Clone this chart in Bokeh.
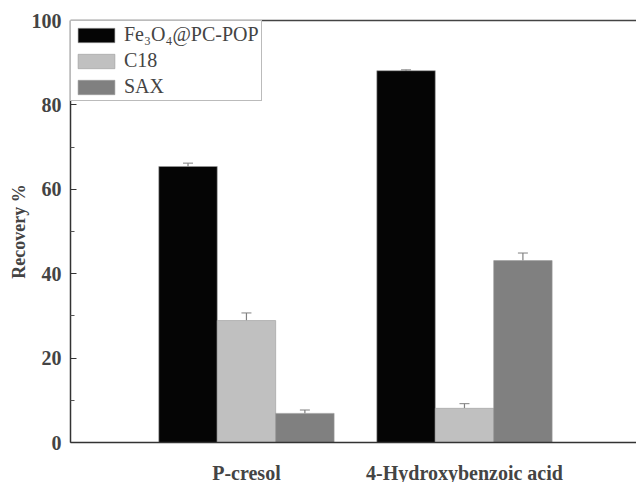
from bokeh.plotting import figure
from bokeh.models import (ColumnDataSource, FixedTicker, Whisker, LinearAxis,
                          Legend, LegendItem, Range1d)
from bokeh.embed import file_html
from bokeh.resources import INLINE

categories = ["P-cresol", "4-Hydroxybenzoic acid"]
series = ["Fe₃O₄@PC-POP", "C18", "SAX"]
fe_vals = [65.4, 88.1]
fe_err = [0.8, 0.2]
c18_vals = [28.9, 8.1]
c18_err = [1.8, 1.1]
sax_vals = [6.9, 43.1]
sax_err = [0.8, 1.8]
colors = ["#050505", "#c0c0c0", "#808080"]
y_ticks = [0, 20, 40, 60, 80, 100]

group_x = [1, 2]
bw = 0.268
offsets = [-bw, 0, bw]

p = figure(frame_width=566, frame_height=422, output_backend="svg",
           toolbar_location=None,
           x_range=Range1d(0.193, 2.789), y_range=Range1d(0, 100),
           min_border_left=70, min_border_right=0, min_border_top=20,
           min_border_bottom=36, y_axis_location=None, x_axis_location=None)
p.grid.visible = False
p.outline_line_color = None
p.background_fill_color = "white"

renderers = []
for vals, errs, off, col in zip([fe_vals, c18_vals, sax_vals],
                                [fe_err, c18_err, sax_err], offsets, colors):
    xs = [g + off for g in group_x]
    src = ColumnDataSource(dict(x=xs, top=vals,
                                upper=[v + e for v, e in zip(vals, errs)]))
    r = p.vbar(x="x", top="top", width=bw, source=src, fill_color=col,
               line_color="#9a9a9a", line_width=0.6)
    renderers.append(r)
    w = Whisker(base="x", lower="top", upper="upper", source=src,
                line_color="#808080", line_width=1.2, lower_head=None)
    w.upper_head.line_color = "#808080"
    w.upper_head.size = 10
    p.add_layout(w)

yax = LinearAxis(ticker=FixedTicker(ticks=y_ticks,
                                    minor_ticks=[10, 30, 50, 70, 90]),
                 axis_label="Recovery %")
yax.major_tick_in = 6
yax.major_tick_out = 0
yax.minor_tick_in = 4
yax.minor_tick_out = 0
yax.axis_line_color = "#333333"
yax.axis_line_width = 1.5
yax.major_tick_line_color = "#333333"
yax.minor_tick_line_color = "#555555"
yax.major_label_text_font = "Liberation Serif"
yax.major_label_text_font_style = "bold"
yax.major_label_text_font_size = "20px"
yax.major_label_standoff = 9
yax.axis_label_text_font = "Liberation Serif"
yax.axis_label_text_font_style = "bold"
yax.axis_label_text_font_size = "18px"
yax.axis_label_standoff = 0
p.add_layout(yax, "left")

xax = LinearAxis(ticker=FixedTicker(ticks=group_x),
                 major_label_overrides={1: categories[0], 2: categories[1]})
xax.major_tick_line_color = None
xax.minor_tick_line_color = None
xax.axis_line_color = "#333333"
xax.axis_line_width = 1.5
xax.major_label_text_font = "Liberation Serif"
xax.major_label_text_font_style = "bold"
xax.major_label_text_font_size = "20px"
xax.major_label_standoff = 13
p.add_layout(xax, "below")

top = LinearAxis(ticker=FixedTicker(ticks=[]))
top.major_tick_line_color = None
top.minor_tick_line_color = None
top.major_label_text_font_size = "0px"
top.axis_line_color = "#444444"
top.axis_line_width = 1.5
p.add_layout(top, "above")

legend = Legend(items=[LegendItem(label=s, renderers=[r])
                       for s, r in zip(series, renderers)],
                location="top_left")
legend.margin = 0
legend.padding = 2
legend.spacing = 3
legend.glyph_width = 46
legend.glyph_height = 18
legend.label_text_font = "Liberation Serif"
legend.label_text_font_size = "20px"
legend.label_standoff = 5
legend.border_line_color = "#777777"
legend.border_line_width = 1
legend.background_fill_alpha = 1
p.add_layout(legend)

open("out.html", "w").write(file_html(p, INLINE))
